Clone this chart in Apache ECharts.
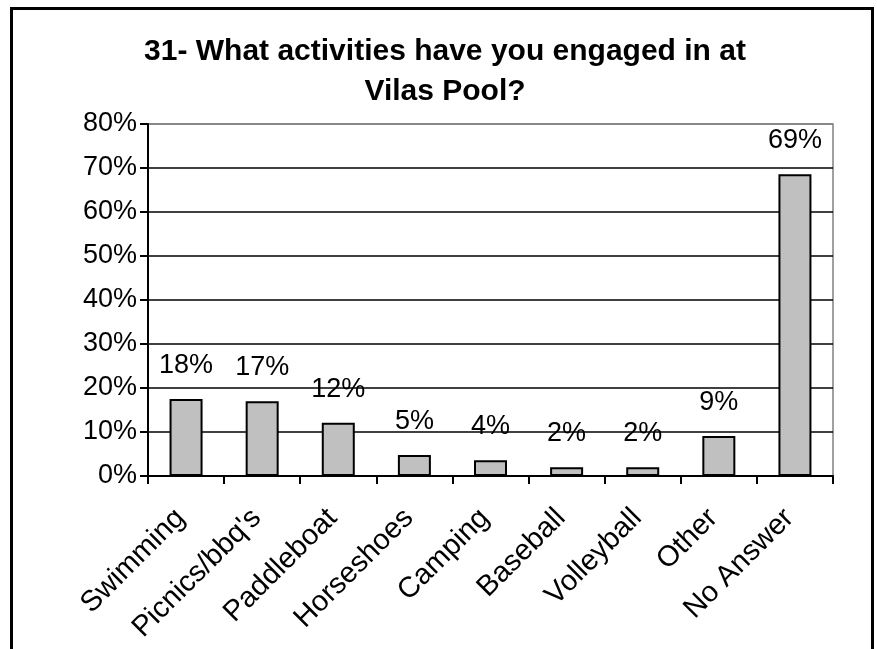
<!DOCTYPE html>
<html lang="en">
  <head>
    <meta charset="UTF-8" />
    <title>Vilas Pool activities</title>
    <script src="https://cdn.jsdelivr.net/npm/echarts@6/dist/echarts.min.js"></script>
    <style>
      body { margin: 0; background: #fff; }
    </style>
  </head>
  <body>
    <div id="main" style="width: 877px; height: 649px"></div>
    <script>
      const categories = ['Swimming', 'Picnics/bbq\'s', 'Paddleboat', 'Horseshoes', 'Camping', 'Baseball', 'Volleyball', 'Other', 'No Answer'];
      const values = [17.5, 17.0, 12.1, 4.8, 3.6, 2.0, 2.0, 9.1, 68.6];
      const yTicks = [0, 10, 20, 30, 40, 50, 60, 70, 80];

      const font = "'Liberation Sans', Arial, sans-serif";
      const mCharts = echarts.init(document.getElementById('main'));

      // last split line is the plot's top edge, drawn gray like the frame
      const splitColors = yTicks.map(function (v, i) {
        return i === yTicks.length - 1 ? '#808080' : '#000';
      });

      const option = {
        backgroundColor: '#fff',
        animation: false,
        title: {
          text: '31- What activities have you engaged in at\nVilas Pool?',
          left: 440,
          top: 27,
          textAlign: 'center',
          textStyle: {
            fontFamily: font,
            fontWeight: 'bold',
            fontSize: 30,
            lineHeight: 40,
            color: '#000',
          },
        },
        graphic: [
          {
            type: 'rect',
            shape: { x: 11.5, y: 8.5, width: 861, height: 700 },
            style: { fill: 'none', stroke: '#000', lineWidth: 3 },
            silent: true,
          },
        ],
        grid: {
          left: 148,
          right: 44,
          top: 124,
          bottom: 173,
          show: true,
          borderColor: '#808080',
          borderWidth: 1.5,
        },
        xAxis: {
          type: 'category',
          data: categories,
          axisLine: { lineStyle: { color: '#000', width: 2 } },
          axisTick: { show: true, length: 8, lineStyle: { color: '#000', width: 2 } },
          axisLabel: {
            rotate: 45,
            margin: 32,
            padding: [0, 8, 0, 0],
            fontFamily: font,
            fontSize: 29,
            color: '#000',
            interval: 0,
          },
        },
        yAxis: {
          type: 'value',
          min: 0,
          max: 80,
          interval: 10,
          axisLine: { show: true, lineStyle: { color: '#000', width: 2 } },
          axisTick: { show: true, length: 8, lineStyle: { color: '#000', width: 2 } },
          axisLabel: {
            margin: 11,
            fontFamily: font,
            fontSize: 27,
            color: '#000',
            formatter: '{value}%',
          },
          splitLine: { show: true, lineStyle: { color: splitColors, width: 1.5 } },
        },
        series: [
          {
            type: 'bar',
            data: values,
            barWidth: 33,
            itemStyle: { color: '#C0C0C0', borderColor: '#000', borderWidth: 2 },
            label: {
              show: true,
              position: 'top',
              distance: 20,
              fontFamily: font,
              fontSize: 27,
              color: '#000',
              formatter: function (p) {
                return Math.round(p.value) + '%';
              },
            },
          },
        ],
      };
      mCharts.setOption(option);
    </script>
  </body>
</html>
